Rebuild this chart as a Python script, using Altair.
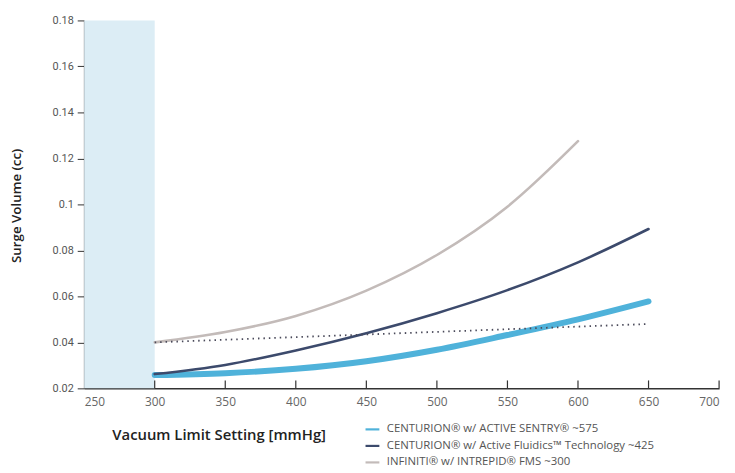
import altair as alt
import pandas as pd

vacuum = [300, 350, 400, 450, 500, 550, 600, 650]
sentry = [0.0258, 0.0266, 0.0285, 0.0318, 0.0368, 0.0432, 0.0500, 0.0578]
fluidics = [0.0262, 0.0302, 0.0365, 0.0440, 0.0527, 0.0627, 0.0748, 0.0893]
vacuum_inf = [300, 350, 400, 450, 500, 550, 600]
infiniti = [0.0400, 0.0445, 0.0515, 0.0625, 0.0780, 0.0990, 0.1275]
thr_x = [300, 650]
thr_y = [0.0400, 0.0480]

series_names = [
    "CENTURION® w/ ACTIVE SENTRY® ~575",
    "CENTURION® w/ Active Fluidics™ Technology ~425",
    "INFINITI® w/ INTREPID® FMS ~300",
]
series_colors = ["#4fb2da", "#3c4a6c", "#c3bbb9"]
series_widths = [6, 2.6, 2.6]
x_ticks = [250, 300, 350, 400, 450, 500, 550, 600, 650, 700]
y_ticks = [0.02, 0.04, 0.06, 0.08, 0.1, 0.12, 0.14, 0.16, 0.18]

rows = []
for v, s in zip(vacuum, sentry):
    rows.append({"x": v, "y": s, "series": series_names[0]})
for v, s in zip(vacuum, fluidics):
    rows.append({"x": v, "y": s, "series": series_names[1]})
for v, s in zip(vacuum_inf, infiniti):
    rows.append({"x": v, "y": s, "series": series_names[2]})
df = pd.DataFrame(rows)
thr = pd.DataFrame({"x": thr_x, "y": thr_y})
band = pd.DataFrame({"x": [250], "x2": [300]})
ticks = pd.DataFrame({"x": x_ticks[1:]})

xscale = alt.Scale(domain=[250, 700], nice=False, zero=False)
yscale = alt.Scale(domain=[0.02, 0.18], nice=False, zero=False)

xaxis = alt.Axis(
    values=x_ticks, ticks=False, domainColor="#333", domainWidth=1.5,
    labelFont="Open Sans", labelFontSize=12, labelColor="#666", labelPadding=8,
    title="Vacuum Limit Setting [mmHg]", titleFont="Open Sans", titleFontSize=15,
    titleFontWeight=600, titleColor="#222", titleX=136, titleY=47,
    titleAlign="center", titleBaseline="middle", grid=False,
)
yaxis = alt.Axis(
    values=y_ticks, format=".2~f", tickSize=7, tickColor="#333", domainColor="#333",
    domainWidth=1.5, labelFont="Roboto", labelFontSize=11, labelColor="#555",
    labelPadding=4, title="Surge Volume (cc)", titleFont="Open Sans",
    titleFontSize=13.5, titleFontWeight=600, titleColor="#222", titleX=-68,
    titleY=187, titleAngle=270, titleAlign="center", titleBaseline="middle",
    grid=False,
)

bg = alt.Chart(band).mark_rect(color="#dcedf5").encode(
    x=alt.X("x:Q", scale=xscale, axis=xaxis),
    x2="x2:Q",
    y=alt.datum(0.02, scale=yscale, axis=yaxis),
    y2=alt.datum(0.18),
)

tickmarks = alt.Chart(ticks).mark_rule(color="#333", strokeWidth=1.2, y2Offset=-8).encode(
    x=alt.X("x:Q", scale=xscale),
    y=alt.datum(0.02),
    y2=alt.datum(0.02),
)

color_enc = alt.Color(
    "series:N",
    scale=alt.Scale(domain=series_names, range=series_colors),
    legend=alt.Legend(
        title=None, orient="none", legendX=283, legendY=405,
        symbolType="stroke", symbolSize=196, symbolStrokeWidth=2.2,
        labelFont="Open Sans", labelFontSize=11.5, labelColor="#555",
        labelLimit=0, rowPadding=2.7, labelOffset=6,
    ),
)

line_layers = []
for name, w in zip(series_names, series_widths):
    line_layers.append(
        alt.Chart(df)
        .transform_filter(alt.datum.series == name)
        .mark_line(interpolate="monotone", strokeCap="round", strokeWidth=w)
        .encode(
            x=alt.X("x:Q", scale=xscale),
            y=alt.Y("y:Q", scale=yscale),
            color=color_enc,
        )
    )

dotted = alt.Chart(thr).mark_line(
    color="#4a4a5a", strokeWidth=1.8, strokeDash=[1.5, 4]
).encode(x=alt.X("x:Q", scale=xscale), y=alt.Y("y:Q", scale=yscale))

chart = alt.layer(bg, tickmarks, *line_layers, dotted).properties(
    width=642, height=372,
    autosize=alt.AutoSizeParams(type="none"),
    padding={"left": 77, "top": 10, "right": 8, "bottom": 82},
    background="white",
).configure_view(stroke=None)

chart.save("out.html", embed_options={"renderer": "svg", "actions": False})
